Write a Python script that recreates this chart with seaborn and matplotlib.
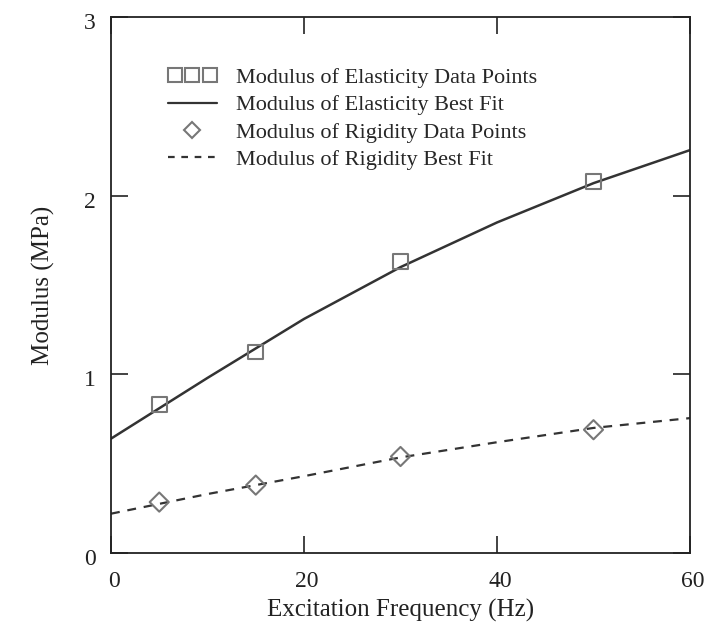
import matplotlib
matplotlib.use("Agg")
import matplotlib.pyplot as plt
import matplotlib.transforms as mtrans
import seaborn as sns
import pandas as pd
from matplotlib.lines import Line2D
from matplotlib.legend_handler import HandlerLine2D

# Data
freq_pts = [5, 15, 30, 50]
elastic_pts = [0.83, 1.125, 1.63, 2.08]
rigid_pts = [0.285, 0.38, 0.54, 0.69]

freq_fit = [0, 10, 20, 30, 40, 50, 60]
elastic_fit = [0.64, 0.98, 1.31, 1.60, 1.85, 2.07, 2.255]
rigid_fit = [0.22, 0.33, 0.43, 0.535, 0.62, 0.70, 0.755]

labels = ["Modulus of Elasticity Data Points", "Modulus of Elasticity Best Fit",
          "Modulus of Rigidity Data Points", "Modulus of Rigidity Best Fit"]
xticks = [0, 20, 40, 60]
yticks = [0, 1, 2, 3]

sns.set_style("ticks")
plt.rcParams['font.family'] = ['Liberation Serif', 'DejaVu Serif']

fig = plt.figure(figsize=(7.06, 6.22), dpi=100)
ax = fig.add_axes([111/706, (622-553)/622, 579/706, 536/622])

line_col = "#333333"
mark_col = "#777777"
text_col = "#222222"

df_fit = pd.DataFrame({"f": freq_fit, "e": elastic_fit, "r": rigid_fit})
df_pts = pd.DataFrame({"f": freq_pts, "e": elastic_pts, "r": rigid_pts})

sns.lineplot(data=df_fit, x="f", y="e", ax=ax, color=line_col, lw=1.8, legend=False)
sns.lineplot(data=df_fit, x="f", y="r", ax=ax, color=line_col, lw=1.6, legend=False)
ax.lines[-1].set_dashes((4, 3.5))
sns.scatterplot(data=df_pts, x="f", y="e", ax=ax, marker="s", s=110,
                facecolor="none", edgecolor=mark_col, linewidth=1.5, legend=False, zorder=3)
sns.scatterplot(data=df_pts, x="f", y="r", ax=ax, marker="D", s=95,
                facecolor="none", edgecolor=mark_col, linewidth=1.5, legend=False, zorder=3)

ax.set_xlim(0, 60)
ax.set_ylim(0, 3)
ax.set_xticks(xticks)
ax.set_yticks(yticks)
ax.tick_params(direction="in", length=12, width=1.2, top=True, right=True,
               labelsize=17, colors=text_col)
ax.tick_params(axis="x", pad=13)
ax.tick_params(axis="y", pad=11)
for s in ax.spines.values():
    s.set_linewidth(1.3)
    s.set_color(text_col)
ax.set_xlabel("Excitation Frequency (Hz)", fontsize=18, labelpad=5, color=text_col)
ax.set_ylabel("Modulus (MPa)", fontsize=18, labelpad=21, color=text_col)

# small offsets of tick labels as in the reference
for lbl in ax.get_xticklabels():
    lbl.set_transform(lbl.get_transform() + mtrans.ScaledTranslation(3/100, 0, fig.dpi_scale_trans))
for lbl in ax.get_yticklabels():
    lbl.set_transform(lbl.get_transform() + mtrans.ScaledTranslation(0, -4/100, fig.dpi_scale_trans))

h1 = Line2D([], [], ls="none", marker="s", markersize=10, markerfacecolor="none",
            markeredgecolor=mark_col, markeredgewidth=1.5)
h2 = Line2D([], [], color=line_col, lw=1.6)
h3 = Line2D([], [], ls="none", marker="D", markersize=8.5, markerfacecolor="none",
            markeredgecolor=mark_col, markeredgewidth=1.5)
h4 = Line2D([], [], color=line_col, lw=1.6, dashes=(3, 3))
ax.legend([h1, h2, h3, h4], labels, loc="upper left", bbox_to_anchor=(0.083, 0.922),
          frameon=False, fontsize=16, handlelength=2.2, handletextpad=0.85,
          labelspacing=0.3, borderaxespad=0,
          handler_map={h1: HandlerLine2D(numpoints=3), h3: HandlerLine2D(numpoints=1)})

fig.savefig("out.png", dpi=100)
